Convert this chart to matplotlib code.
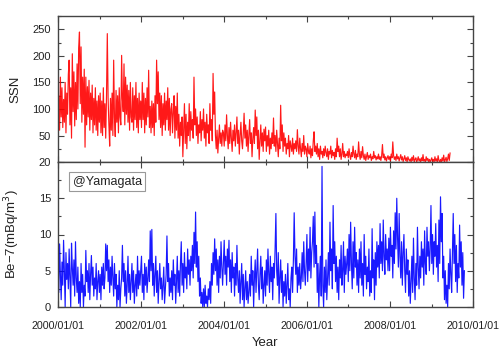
import matplotlib
matplotlib.use("Agg")
import matplotlib.pyplot as plt
import matplotlib.dates as mdates
from matplotlib.ticker import MultipleLocator
import pandas as pd

# Weekly samples (starting 2000-01-01)
ssn_values = [
    68, 125, 60, 160, 85, 140, 65, 118, 75, 150, 55, 130, 90,
    165, 192, 70, 140, 45, 204, 95, 170, 68, 150, 80, 185, 100,
    215, 245, 110, 217, 75, 160, 90, 175, 28, 160, 70, 142, 85,
    154, 60, 130, 80, 145, 55, 120, 70, 140, 60, 115, 50, 125,
    75, 130, 55, 115, 50, 140, 65, 110, 45, 125, 242, 120, 70,
    30, 120, 60, 130, 50, 192, 85, 48, 135, 75, 125, 55, 140,
    85, 70, 201, 120, 95, 185, 70, 160, 90, 145, 75, 135, 60,
    150, 85, 75, 140, 60, 125, 80, 150, 65, 120, 55, 130, 80,
    115, 65, 150, 80, 130, 55, 120, 70, 140, 85, 173, 65, 105,
    55, 115, 65, 110, 50, 125, 75, 192, 110, 170, 80, 130, 65,
    125, 50, 110, 70, 130, 60, 115, 80, 140, 60, 120, 50, 100,
    110, 55, 95, 125, 45, 105, 60, 130, 45, 90, 30, 75, 50,
    85, 10, 60, 110, 35, 90, 25, 75, 50, 110, 40, 95, 60,
    80, 45, 160, 70, 100, 50, 85, 35, 70, 55, 95, 40, 80,
    60, 100, 45, 75, 30, 90, 55, 70, 35, 110, 60, 80, 40,
    167, 90, 132, 50, 25, 60, 17, 45, 70, 35, 55, 30, 60,
    55, 30, 70, 40, 89, 50, 25, 65, 35, 75, 45, 20, 60,
    40, 70, 30, 55, 85, 35, 60, 15, 50, 75, 40, 25, 55,
    92, 45, 70, 30, 60, 20, 50, 80, 35, 55, 10, 45, 65,
    35, 98, 50, 85, 25, 60, 5, 40, 70, 30, 55, 20, 62,
    40, 66, 20, 50, 30, 60, 15, 45, 25, 55, 35, 83, 30,
    50, 20, 60, 35, 10, 45, 25, 107, 40, 70, 20, 55, 30,
    45, 15, 35, 25, 50, 10, 40, 30, 20, 45, 15, 35, 25,
    40, 20, 61, 30, 15, 45, 25, 10, 35, 20, 50, 15, 30,
    25, 10, 35, 20, 15, 30, 8, 25, 12, 40, 57, 20, 30,
    15, 35, 10, 25, 5, 30, 15, 20, 8, 25, 12, 30, 18,
    10, 25, 5, 20, 15, 30, 8, 22, 12, 18, 5, 25, 10,
    45, 20, 30, 10, 25, 5, 15, 35, 10, 20, 8, 15, 12,
    20, 8, 25, 12, 5, 18, 10, 30, 15, 8, 22, 5, 15,
    10, 38, 15, 5, 20, 8, 29, 12, 5, 15, 3, 10, 18,
    5, 12, 8, 15, 3, 10, 6, 20, 8, 12, 4, 10, 6,
    15, 5, 10, 3, 12, 33, 8, 15, 4, 10, 2, 8, 12,
    5, 10, 2, 15, 8, 38, 12, 5, 10, 3, 15, 6, 10,
    2, 8, 14, 4, 10, 1, 6, 12, 3, 8, 0, 10, 5,
    2, 6, 0, 9, 3, 12, 1, 5, 8, 0, 4, 10, 2,
    6, 0, 8, 3, 14, 2, 5, 0, 10, 3, 7, 1, 5,
    0, 4, 8, 1, 5, 0, 10, 2, 6, 0, 12, 3, 0,
    5, 0, 8, 2, 13, 0, 4, 9, 1, 6, 15, 3, 17,
]

be7_values = [
    11.7, 2.0, 8.7, 4.5, 1.0, 6.2, 3.0, 9.2, 5.0, 0.0, 7.5, 3.8, 6.0,
    2.5, 8.0, 4.2, 0.0, 8.8, 5.5, 3.0, 6.5, 1.5, 9.0, 4.0, 2.0, 5.5,
    0.5, 3.5, 0.0, 6.0, 2.0, 4.5, 0.0, 3.0, 1.5, 7.8, 3.5, 5.0, 2.0,
    6.0, 1.0, 4.5, 7.1, 3.0, 5.5, 1.5, 4.0, 2.5, 6.0, 1.0, 3.5, 5.0,
    2.0, 4.5, 1.0, 5.5, 3.0, 6.0, 2.5, 4.0, 8.7, 5.0, 8.5, 3.5, 6.5,
    2.0, 5.5, 3.0, 7.0, 4.0, 1.5, 6.0, 2.5, 4.5, 0.0, 3.0, 1.0, 5.0,
    0.0, 2.5, 4.0, 8.5, 3.5, 6.0, 1.5, 5.0, 0.5, 3.0, 7.0, 2.0, 4.5,
    1.0, 3.5, 6.0, 2.0, 5.0, 0.5, 3.0, 4.5, 1.5, 7.0, 2.5, 5.0, 3.0,
    5.0, 7.0, 2.0, 4.5, 1.0, 6.0, 3.0, 5.5, 2.0, 4.0, 6.5, 3.5, 10.5,
    5.0, 10.7, 3.0, 6.0, 1.5, 4.5, 7.0, 2.0, 5.0, 0.5, 3.5, 6.0, 2.5,
    4.0, 1.0, 3.0, 5.5, 0.5, 2.5, 4.5, 9.8, 3.5, 6.0, 1.5, 4.0, 2.0,
    5.0, 1.0, 6.5, 3.0, 4.5, 0.5, 3.5, 7.0, 2.0, 5.0, 1.5, 6.0, 9.0,
    3.0, 6.0, 2.0, 7.5, 4.0, 5.5, 2.5, 8.0, 4.5, 6.5, 3.0, 7.0, 5.0,
    8.5, 4.0, 10.3, 6.0, 13.1, 5.5, 9.0, 3.5, 7.0, 1.5, 4.0, 0.5, 2.0,
    0.0, 2.5, 0.0, 3.0, 0.5, 1.5, 0.0, 2.5, 1.0, 3.5, 0.5, 6.0, 3.0,
    7.5, 4.5, 9.4, 5.0, 8.0, 3.0, 6.5, 2.0, 7.0, 4.0, 9.0, 5.5, 3.0,
    6.0, 9.2, 4.5, 7.0, 3.0, 8.0, 5.5, 9.2, 3.5, 6.5, 2.0, 7.5, 4.0,
    5.5, 1.5, 6.0, 3.0, 8.5, 4.0, 2.0, 5.0, 0.5, 3.5, 6.0, 1.0, 4.5,
    0.0, 2.5, 5.0, 1.0, 3.5, 0.5, 2.0, 4.5, 1.5, 7.0, 3.0, 5.0, 0.0,
    4.0, 6.5, 2.0, 5.0, 8.0, 3.0, 1.0, 4.5, 7.0, 2.5, 5.5, 0.5, 3.0,
    5.0, 1.5, 6.5, 3.0, 8.0, 4.5, 2.0, 7.0, 3.5, 5.5, 1.0, 6.0, 4.0,
    8.0, 12.9, 5.0, 3.0, 7.5, 0.5, 4.0, 6.5, 2.0, 5.0, 0.0, 3.5, 1.5,
    4.5, 0.5, 3.0, 6.0, 1.0, 2.5, 0.0, 4.0, 5.5, 2.0, 6.5, 13.0, 7.0,
    4.5, 8.0, 2.0, 5.5, 3.0, 6.0, 2.5, 4.0, 7.5, 3.5, 9.0, 5.0, 3.0,
    6.0, 10.0, 3.5, 8.0, 5.0, 11.0, 4.0, 7.5, 9.0, 12.5, 5.5, 13.1, 6.0,
    8.5, 2.0, 6.0, 0.0, 4.5, 7.0, 1.5, 19.4, 3.0, 0.0, 5.5, 2.0, 6.5,
    1.0, 4.0, 7.5, 3.0, 11.7, 5.0, 8.0, 2.5, 14.0, 6.0, 9.0, 3.5, 7.0,
    2.0, 5.5, 1.0, 6.5, 4.0, 8.5, 3.0, 5.0, 9.0, 2.0, 7.0, 4.5, 6.0,
    8.0, 3.5, 10.0, 5.0, 11.7, 6.0, 2.5, 9.0, 4.0, 11.0, 5.5, 7.5, 3.0,
    6.5, 2.0, 8.0, 4.0, 9.0, 3.0, 6.0, 1.5, 10.0, 4.5, 7.0, 2.5, 5.5,
    3.5, 8.0, 1.5, 5.0, 2.0, 10.8, 4.0, 6.5, 1.0, 7.5, 3.0, 9.0, 5.5,
    8.5, 4.0, 11.5, 6.0, 9.0, 5.0, 12.0, 7.0, 4.5, 10.0, 6.5, 8.0, 5.0,
    9.5, 5.0, 11.0, 7.0, 8.5, 4.0, 10.5, 6.0, 13.0, 8.0, 15.0, 9.5, 5.5,
    12.9, 7.0, 4.0, 9.0, 3.0, 7.5, 10.0, 5.0, 2.0, 8.0, 4.5, 6.5, 1.5,
    5.0, 0.5, 3.5, 7.0, 2.0, 9.5, 4.0, 1.0, 6.0, 3.0, 11.0, 5.5, 2.5,
    7.0, 4.0, 9.0, 5.5, 8.0, 3.0, 10.5, 6.0, 4.5, 11.0, 7.0, 9.0, 5.0,
    8.0, 14.0, 6.0, 10.0, 4.5, 9.0, 7.0, 11.5, 5.5, 8.5, 3.5, 12.0, 6.0,
    15.2, 9.0, 12.9, 4.0, 7.0, 1.0, 5.0, 0.5, 3.0, 0.0, 6.0, 2.5, 8.0,
    4.5, 2.0, 7.5, 12.9, 6.0, 10.0, 3.5, 8.5, 2.0, 6.0, 4.0, 11.3, 5.5,
    9.0, 3.0, 7.5, 1.2, 5.0,
]

start_date = "2000-01-01"
sample_step = "7D"
x_start, x_end = "2000-01-01", "2010-01-01"
station_label = "@Yamagata"

ssn_dates = pd.date_range(start_date, periods=len(ssn_values), freq=sample_step)
be7_dates = pd.date_range(start_date, periods=len(be7_values), freq=sample_step)

plt.rcParams['font.family'] = ['Liberation Sans', 'DejaVu Sans']
text_col = '#222222'
spine_col = '#444444'

fig = plt.figure(figsize=(5, 3.5), dpi=100)
ax1 = fig.add_axes([0.116, 0.537, 0.83, 0.417])
ax2 = fig.add_axes([0.116, 0.123, 0.83, 0.414], sharex=ax1)

ax1.plot(ssn_dates, ssn_values, color='#ff0000', lw=0.85, alpha=0.9)
ax2.plot(be7_dates, be7_values, color='#0000ff', lw=0.85, alpha=0.9)

ax1.set_xlim(pd.Timestamp(x_start), pd.Timestamp(x_end))
ax1.set_ylim(0, 275)
ax2.set_ylim(0, 20)

ax1.yaxis.set_major_locator(MultipleLocator(50))
ax1.yaxis.set_minor_locator(MultipleLocator(25))
ax2.yaxis.set_major_locator(MultipleLocator(5))
ax2.yaxis.set_minor_locator(MultipleLocator(2.5))
ax2.xaxis.set_major_locator(mdates.YearLocator(2))
ax2.xaxis.set_minor_locator(mdates.YearLocator(1))
ax2.xaxis.set_major_formatter(mdates.DateFormatter('%Y/%m/%d'))

for ax in (ax1, ax2):
    for s in ax.spines.values():
        s.set_color(spine_col)
        s.set_linewidth(1.0)
    ax.tick_params(which='both', direction='in', top=True, right=True,
                   colors=spine_col, labelcolor=text_col, labelsize=8)
    ax.tick_params(which='major', length=4, width=0.8)
    ax.tick_params(which='minor', length=2.5, width=0.8)
    ax.tick_params(axis='y', pad=5)

ax1.tick_params(labelbottom=False)
ax1.set_yticks([50, 100, 150, 200, 250])
ax2.tick_params(axis='x', pad=10, labelsize=7.7)

ax1.set_ylabel('SSN', fontsize=9.5, color=text_col)
ax2.set_ylabel('Be\u22127(mBq/m$^3$)', fontsize=9.5, color=text_col)
ax1.yaxis.set_label_coords(-0.087, 0.5)
ax2.yaxis.set_label_coords(-0.087, 0.5)
ax2.set_xlabel('Year', fontsize=9.5, color=text_col)
ax2.xaxis.set_label_coords(0.5, -0.205)

ax2.text(0.035, 0.865, station_label, transform=ax2.transAxes, fontsize=9,
         color=text_col, va='center', ha='left',
         bbox=dict(boxstyle='square,pad=0.3', fc='white', ec='#999999', lw=0.8))

fig.savefig('out.png', dpi=100)
